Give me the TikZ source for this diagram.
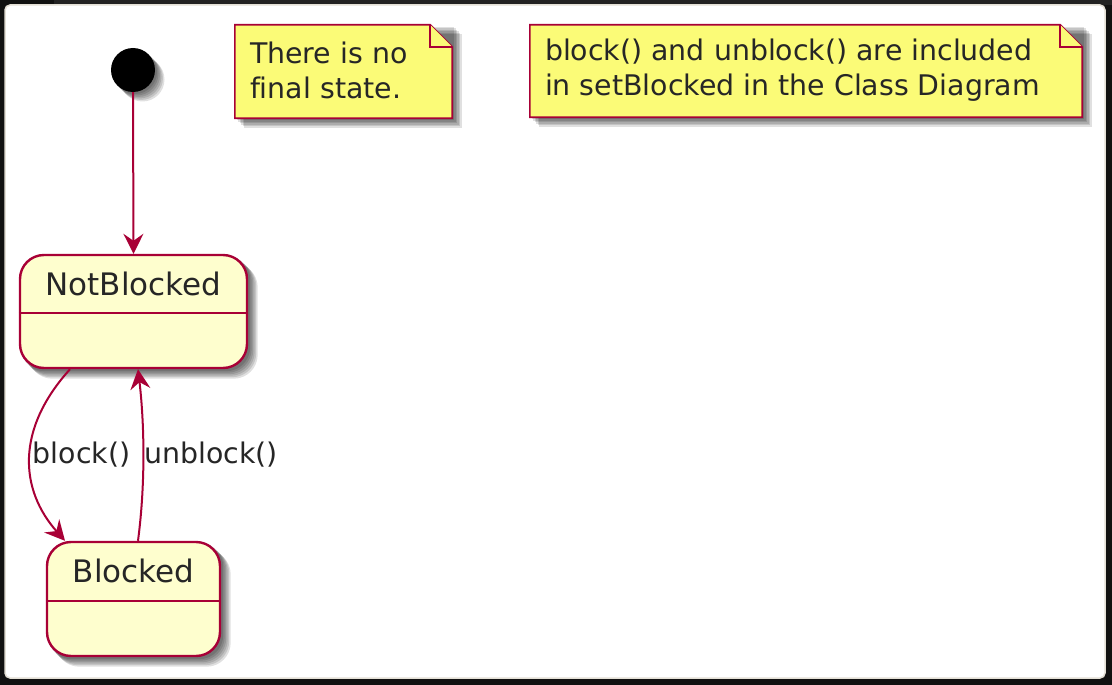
\documentclass[tikz,border=0pt]{standalone}
\usepackage{fontspec}
\setmainfont{DejaVu Sans}[Ligatures=NoCommon]
\usetikzlibrary{arrows.meta}
\definecolor{pborder}{HTML}{A80036}
\definecolor{pstate}{HTML}{FEFECE}
\definecolor{pnote}{HTML}{FBFB77}
\definecolor{txt}{HTML}{262626}
\definecolor{outer}{HTML}{111111}
\definecolor{outertop}{HTML}{222222}
\definecolor{edgeline}{HTML}{E4E0D6}
\pgfdeclarelayer{bg}
\pgfdeclarelayer{shadow}
\pgfsetlayers{bg,shadow,main}
\begin{document}
\begin{tikzpicture}[x=1pt,y=-1pt,
  statebox/.style={draw=pborder, fill=pstate, line width=2.4pt, rounded corners=24pt, rectangle, inner sep=0pt},
  statename/.style={font=\fontsize{31}{36}\selectfont, text=txt, inner sep=0pt},
  notebox/.style={rectangle, inner sep=0pt},
  noteline/.style={draw=pborder, fill=pnote, line width=1.6pt, line join=miter},
  notetext/.style={font=\fontsize{28.4}{35}\selectfont, text=txt, align=left, inner sep=0pt},
  lbl/.style={font=\fontsize{28.4}{34}\selectfont, text=txt, inner sep=0pt},
  trans/.style={draw=pborder, line width=2pt, -{Stealth[length=20pt,width=20pt,inset=7pt]}},
  shad/.style={fill=black, opacity=0.12},
]
\useasboundingbox (0,0) rectangle (1112,685);
% background
\begin{pgfonlayer}{bg}
\fill[outer] (0,0) rectangle (1112,685);
\fill[outertop] (54,0) rectangle (1112,5);
\fill[white, draw=edgeline, line width=1.5pt, rounded corners=5pt] (5,5) rectangle (1105,678);
\end{pgfonlayer}

% initial state
\node[circle, fill=black, minimum size=44pt, inner sep=0pt] (init) at (133,70) {};

% states
\node[statebox, minimum width=227pt, minimum height=113pt] (nb) at (133.5,311.5) {};
\node[statename] (nbname) at (133.5,284) {NotBlocked};
\draw[pborder, line width=2.4pt] (nb.west |- 0,313) -- (nb.east |- 0,313);

\node[statebox, minimum width=173pt, minimum height=114pt] (bl) at (133.5,599) {};
\node[statename] (blname) at (133.5,571) {Blocked};
\draw[pborder, line width=2.4pt] (bl.west |- 0,601) -- (bl.east |- 0,601);

% notes
\node[notebox, minimum width=217pt, minimum height=93pt] (n1) at (343.5,71.5) {};
\node[notebox, minimum width=552pt, minimum height=92pt] (n2) at (806,71) {};

\foreach \n in {n1,n2}{
  \draw[noteline] (\n.north west) -- ([xshift=-22pt]\n.north east) -- ([yshift=-22pt]\n.north east) -- (\n.south east) -- (\n.south west) -- cycle;
  \draw[draw=pborder, line width=1.6pt, fill=pnote] ([xshift=-22pt]\n.north east) -- ([xshift=-22pt,yshift=-22pt]\n.north east) -- ([yshift=-22pt]\n.north east);
}
\node[notetext, anchor=west] (n1text) at ([xshift=15pt,yshift=1pt]n1.west) {There is no\\final state.};
\node[notetext, anchor=west] (n2text) at ([xshift=15pt,yshift=1pt]n2.west) {block() and unblock() are included\\in setBlocked in the Class Diagram};

% shadows
\begin{pgfonlayer}{shadow}
\foreach \s in {2,3.5,5,6.5,8,9.5}{
  \fill[shad] ([shift={(\s pt,-\s pt)}]init.center) circle (22pt);
  \fill[shad, rounded corners=24pt] ([shift={(\s pt,-\s pt)}]nb.north west) rectangle ([shift={(\s pt,-\s pt)}]nb.south east);
  \fill[shad, rounded corners=24pt] ([shift={(\s pt,-\s pt)}]bl.north west) rectangle ([shift={(\s pt,-\s pt)}]bl.south east);
  \fill[shad] ([shift={(\s pt,-\s pt)}]n1.north west) rectangle ([shift={(\s pt,-\s pt)}]n1.south east);
  \fill[shad] ([shift={(\s pt,-\s pt)}]n2.north west) rectangle ([shift={(\s pt,-\s pt)}]n2.south east);
}
\end{pgfonlayer}

% transitions
\draw[trans] (init.south) -- (nb.north);
\draw[trans] ([xshift=-63.5pt]nb.south) .. controls (15,430) and (20,490) .. ([xshift=-68.5pt]bl.north);
\draw[trans] ([xshift=4.5pt]bl.north) .. controls (146,480) and (144,420) .. ([xshift=4.5pt]nb.south);

\node[lbl] (lblock) at (81.5,455) {block()};
\node[lbl] (lunblock) at (211,455) {unblock()};
\end{tikzpicture}
\end{document}
